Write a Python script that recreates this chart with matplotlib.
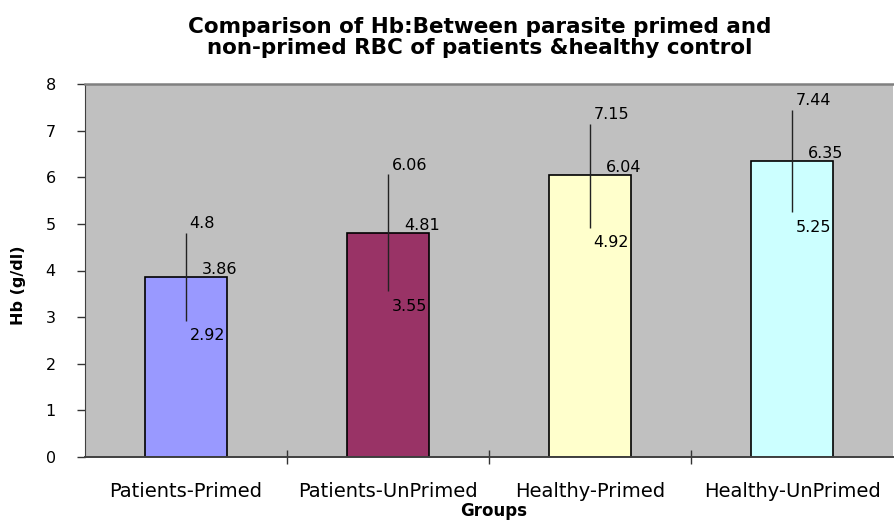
import matplotlib.pyplot as plt
from matplotlib.ticker import FixedLocator

groups = ["Patients-Primed", "Patients-UnPrimed", "Healthy-Primed", "Healthy-UnPrimed"]
hb_mean = [3.86, 4.81, 6.04, 6.35]
hb_upper = [4.8, 6.06, 7.15, 7.44]
hb_lower = [2.92, 3.55, 4.92, 5.25]
bar_colors = ["#9999FF", "#993366", "#FFFFCC", "#CCFFFF"]

plt.rcParams['font.family'] = ['DejaVu Sans']

fig = plt.figure(figsize=(8.94, 5.21), dpi=100)
ax = fig.add_axes([85 / 894, 64 / 521, 808 / 894, 373 / 521])
ax.set_facecolor("#C0C0C0")

pos = list(range(len(groups)))
ax.bar(pos, hb_mean, width=0.41, color=bar_colors, edgecolor="black", linewidth=1.2, zorder=2)
ax.vlines(pos, hb_lower, hb_upper, color="#222222", linewidth=1, zorder=3)

for i in pos:
	ax.annotate(str(hb_upper[i]), xy=(i, hb_upper[i]), xytext=(2.5, 3.5),
		textcoords="offset points", ha="left", va="baseline", fontsize=11.5, zorder=4)
	ax.annotate(str(hb_mean[i]), xy=(i, hb_mean[i]), xytext=(11.5, 2.2),
		textcoords="offset points", ha="left", va="baseline", fontsize=11.5, zorder=4)
	ax.annotate(str(hb_lower[i]), xy=(i, hb_lower[i]), xytext=(2.5, -5.4),
		textcoords="offset points", ha="left", va="top", fontsize=11.5, zorder=4)

ax.set_xlim(-0.5, len(groups) - 0.5)
ax.set_ylim(0, 8)
ax.set_yticks(range(0, 9))
ax.set_xticks(pos)
ax.set_xticklabels(groups, fontsize=14)
ax.xaxis.set_minor_locator(FixedLocator([0.5, 1.5, 2.5]))
ax.tick_params(axis="x", which="major", length=0, pad=18)
ax.tick_params(axis="x", which="minor", direction="inout", length=10, width=1, color="#333333")
ax.tick_params(axis="y", direction="out", length=6, width=1, color="#333333", labelsize=11.5, pad=15)

ax.spines["right"].set_visible(False)
ax.spines["top"].set_color("#808080")
ax.spines["top"].set_linewidth(1.8)
ax.spines["left"].set_color("#404040")
ax.spines["bottom"].set_color("#404040")
ax.spines["bottom"].set_linewidth(1.4)

fig.text(19 / 894, 1 - 285 / 521, "Hb (g/dl)", rotation=90, ha="center", va="center",
	fontsize=11.5, fontweight="bold")
fig.text(494 / 894, 1 / 521, "Groups", ha="center", va="bottom", fontsize=12, fontweight="bold")
fig.text(480 / 894, 1 - 17 / 521, "Comparison of Hb:Between parasite primed and\nnon-primed RBC of patients &healthy control",
	ha="center", va="top", fontsize=15.5, fontweight="bold", linespacing=1.05)

plt.savefig("out.png", dpi=100)
